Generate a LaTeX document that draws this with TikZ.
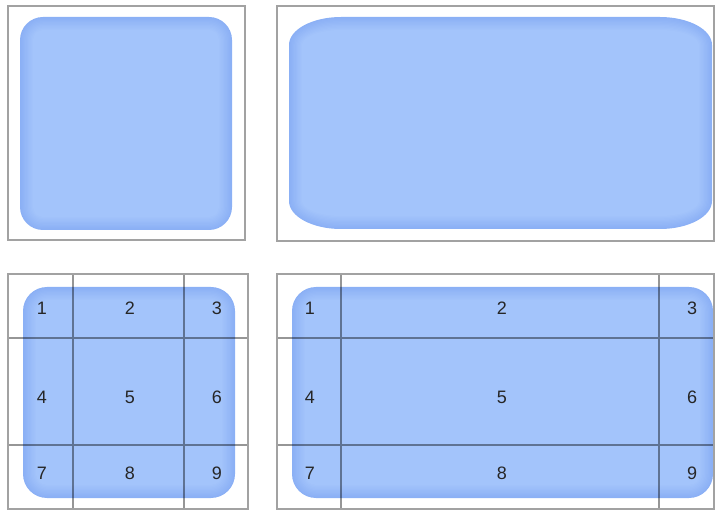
\documentclass[tikz,border=0pt]{standalone}
\usepackage{fontspec}
\setmainfont{Liberation Sans}
\usetikzlibrary{positioning}

\definecolor{framegray}{HTML}{A2A2A2}
\definecolor{gridgray}{HTML}{969696}
\definecolor{blueedge}{HTML}{8BB0F5}
\definecolor{bluemid}{HTML}{A3C4FB}

% soft blue box: x1, y1, x2, y2, x radius, y radius of the corners
\newcommand\glowbox[6]{%
  \foreach \k [evaluate=\k as \p using int(\k*10),
               evaluate=\k as \d using \k*1.3,
               evaluate=\k as \rx using #5-\k*1.3,
               evaluate=\k as \ry using #6-\k*1.3] in {0,...,10}
    \fill[bluemid!\p!blueedge]
      (#1+\d,#2+\ry+\d) arc[start angle=180, end angle=270, x radius=\rx, y radius=\ry]
      -- (#3-\rx-\d,#2+\d) arc[start angle=270, end angle=360, x radius=\rx, y radius=\ry]
      -- (#3-\d,#4-\ry-\d) arc[start angle=0, end angle=90, x radius=\rx, y radius=\ry]
      -- (#1+\rx+\d,#4-\d) arc[start angle=90, end angle=180, x radius=\rx, y radius=\ry]
      -- cycle;}

\begin{document}
\begin{tikzpicture}[x=1pt, y=-1pt,
  frame/.style={draw=framegray, line width=2pt},
  gridline/.style={draw=gridgray, line width=1.8pt, blend mode=multiply},
  num/.style={font=\fontsize{18}{18}\selectfont, text=black!85, inner sep=0pt}]

  \useasboundingbox (0,0) rectangle (715,510);

  % top row: the stretched image
  \glowbox{20}{17}{232}{230}{23}{23}
  \draw[frame] (8,6) rectangle (245,240);
  \glowbox{289}{17}{712}{229}{52}{28}
  \draw[frame] (277,6) rectangle (714,241);

  % bottom row: the nine-slice image
  \glowbox{23}{287}{235}{498}{24}{24}
  \glowbox{292}{287}{713}{498}{24}{24}

  \draw[gridline] (73,274) -- (73,509) (184,274) -- (184,509)
                  (8,338) -- (248,338) (8,445) -- (248,445);
  \draw[gridline] (341,274) -- (341,509) (659,274) -- (659,509)
                  (277,338) -- (714,338) (277,445) -- (714,445);
  \draw[frame] (8,274) rectangle (248,509);
  \draw[frame] (277,274) rectangle (714,509);

  \foreach \y [count=\r] in {308,397,473}
    \foreach \x/\xx [count=\c] in {42/310,130/502,217/692} {
      \pgfmathtruncatemacro\n{(\r-1)*3+\c}
      \node[num] (sl\n) at (\x,\y) {\n};
      \node[num] (wd\n) at (\xx,\y) {\n};
    }
\end{tikzpicture}
\end{document}
